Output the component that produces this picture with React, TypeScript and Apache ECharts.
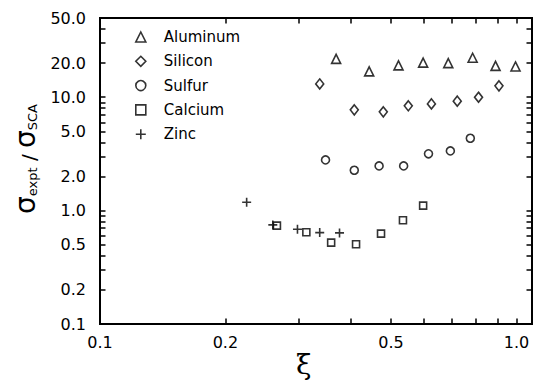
import React, { useEffect, useRef } from 'react';
import * as echarts from 'echarts';

const seriesNames = ['Aluminum', 'Silicon', 'Sulfur', 'Calcium', 'Zinc'];
const aluminumX = [0.369, 0.443, 0.521, 0.597, 0.686, 0.785, 0.891, 0.995];
const aluminumY = [21.8, 16.9, 19.1, 20.2, 20.0, 22.3, 18.9, 18.7];
const siliconX = [0.337, 0.408, 0.479, 0.55, 0.625, 0.721, 0.811, 0.908];
const siliconY = [13.1, 7.74, 7.43, 8.4, 8.74, 9.24, 10.0, 12.6];
const sulfurX = [0.348, 0.408, 0.468, 0.536, 0.615, 0.694, 0.775];
const sulfurY = [2.8, 2.27, 2.48, 2.48, 3.17, 3.36, 4.35];
const calciumX = [0.266, 0.313, 0.359, 0.412, 0.473, 0.534, 0.597];
const calciumY = [0.738, 0.644, 0.522, 0.505, 0.627, 0.822, 1.107];
const zincX = [0.225, 0.26, 0.298, 0.337, 0.376];
const zincY = [1.186, 0.748, 0.685, 0.64, 0.636];

const xLabelTicks = [0.1, 0.2, 0.5, 1.0];
const xTicks = [0.2, 0.3, 0.4, 0.5, 0.6, 0.7, 0.8, 0.9, 1.0];
const yLabelTicks = [0.1, 0.2, 0.5, 1, 2, 5, 10, 20, 50];
const yTicks = [0.2, 0.3, 0.4, 0.5, 0.6, 0.7, 0.8, 0.9, 1, 2, 3, 4, 5, 6, 7, 8, 9, 10, 20, 30, 40];

const FONT = 'DejaVu Sans';

function pairs(xs: number[], ys: number[]) {
  return xs.map((x, i) => [x, ys[i]]);
}

function fmt(v: any): string {
  const raw = v !== null && typeof v === 'object' ? (v as any).value : v;
  const n = Number(raw);
  if (!isFinite(n)) return '';
  const r = Math.round(n * 10) / 10;
  return Number.isInteger(r) ? r + '.0' : String(r);
}

export default function App() {
  const ref = useRef<HTMLDivElement>(null);
  useEffect(() => {
    if (!ref.current) return;
    const chart = echarts.init(ref.current, null, { renderer: 'svg' });
    const X_MIN = 0.1, X_MAX = 1.09, Y_MIN = 0.1, Y_MAX = 50;
    const mkAxis = (min: number, max: number, pos: string, ticks: number[], labels: number[] | null, margin: number) => ({
      type: 'log', min, max, position: pos,
      axisLine: { show: true, onZero: false, lineStyle: { color: '#000', width: 2 } },
      axisTick: { show: true, inside: true, length: 5.5, customValues: ticks, lineStyle: { color: '#000', width: 1.5 } },
      axisLabel: labels ? {
        show: true, customValues: labels, formatter: fmt,
        color: '#000', fontFamily: FONT, fontSize: 16, margin,
      } : { show: false },
      splitLine: { show: false },
    });
    const hollow = { color: 'rgba(0,0,0,0)', borderColor: '#000', borderWidth: 1.6 };
    const symbols: any[] = ['triangle', 'diamond', 'circle', 'rect', 'path://M0,5L10,5M5,0L5,10'];
    const sizes: any[] = [9, [8, 10], 8, 7, 9];
    const datas = [
      pairs(aluminumX, aluminumY),
      pairs(siliconX, siliconY),
      pairs(sulfurX, sulfurY),
      pairs(calciumX, calciumY),
      pairs(zincX, zincY),
    ];
    chart.setOption({
      animation: false,
      grid: { left: 100, right: 1, top: 18, bottom: 59 },
      xAxis: [
        mkAxis(X_MIN, X_MAX, 'bottom', xTicks, xLabelTicks, 10),
        mkAxis(X_MIN, X_MAX, 'top', xTicks, null, 8),
      ],
      yAxis: [
        mkAxis(Y_MIN, Y_MAX, 'left', yTicks, yLabelTicks, 14),
        mkAxis(Y_MIN, Y_MAX, 'right', yTicks, null, 8),
      ],
      legend: {
        show: true, orient: 'vertical', left: 130, top: 24,
        itemWidth: 10, itemHeight: 10, itemGap: 8.3, selectedMode: false,
        data: seriesNames,
        itemStyle: { borderWidth: 1.6 },
        textStyle: { color: '#000', fontFamily: FONT, fontSize: 15, lineHeight: 16, padding: [0, 0, 0, 13] },
      },
      series: seriesNames.map((name, i) => ({
        name, type: 'scatter', xAxisIndex: 0, yAxisIndex: 0,
        symbol: symbols[i], symbolSize: sizes[i],
        itemStyle: hollow,
        data: datas[i],
        emphasis: { disabled: true },
      })),
      graphic: [
        {
          type: 'rect', silent: true, z: -1,
          shape: { x: 100, y: 18, width: 432, height: 306 },
          style: { fill: 'none', stroke: '#000', lineWidth: 2 },
        },
        {
          type: 'text', left: 296, top: 350,
          style: { text: 'ξ', fontFamily: 'DejaVu Serif', fontSize: 28, fill: '#000' },
        },
        {
          type: 'text', x: 24, y: 159, rotation: Math.PI / 2,
          style: {
            text: '{s|σ}{sub|expt}{n| / }{s|σ}{sub|SCA}',
            align: 'center', verticalAlign: 'middle',
            rich: {
              s: { fontFamily: FONT, fontSize: 28, lineHeight: 30, fill: '#000', verticalAlign: 'bottom' },
              sub: { fontFamily: FONT, fontSize: 13, lineHeight: 12, fill: '#000', verticalAlign: 'bottom' },
              n: { fontFamily: FONT, fontSize: 20, lineHeight: 28, fill: '#000', verticalAlign: 'bottom' },
            },
          },
        },
      ],
    });
    return () => chart.dispose();
  }, []);
  return <div ref={ref} style={{ width: 533, height: 383, position: 'absolute', left: 0, top: 0 }} />;
}
